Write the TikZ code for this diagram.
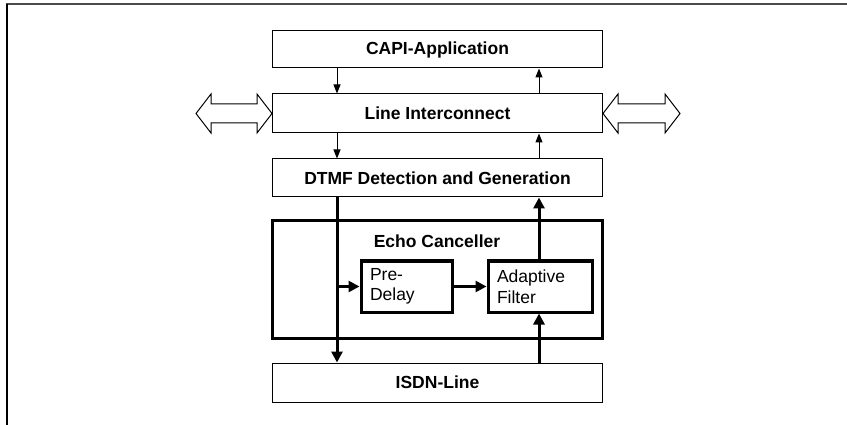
\documentclass[tikz,border=0pt]{standalone}
\usepackage{fontspec}
\setmainfont{Liberation Sans}
\usetikzlibrary{arrows.meta}
\begin{document}
\begin{tikzpicture}[x=1pt,y=-1pt,
  every node/.style={font=\fontsize{17.5}{20.5}\selectfont},
  thinbox/.style={draw,line width=1pt,minimum width=330pt,inner sep=0pt,font=\fontsize{17.5}{20.5}\selectfont\bfseries},
  thickbox/.style={draw,line width=3pt,inner sep=0pt},
  thinarrow/.style={line width=1pt,-{Triangle[length=9pt,width=7pt]}},
  thickarrow/.style={line width=3pt,-{Triangle[length=11pt,width=11pt]}},
  dblarrow/.style={draw,line width=1pt,fill=white,line join=miter}]
\useasboundingbox (0,0) rectangle (847,425);
\fill[white] (0,0) rectangle (847,425);
\draw[line width=2pt,black!70] (6,4.5) -- (847,4.5);
\draw[line width=2pt,black] (6.5,4) -- (6.5,425);

\node[thinbox,minimum height=37pt] (capi) at (437.5,49.5) {CAPI-Application};
\node[thinbox,minimum height=39pt] (li) at (437.5,113.5) {Line Interconnect};
\node[thinbox,minimum height=38pt] (dtmf) at (437.5,178) {DTMF Detection and Generation};
\node[thickbox,minimum width=330pt,minimum height=117pt] (ec) at (437.5,279.5) {};
\node (ectext) at (437,241) {\bfseries Echo Canceller};
\node[thickbox,minimum width=91pt,minimum height=51pt,align=left,text width=73pt,inner sep=0pt] (pd) at (406.5,286.5) {Pre-\\Delay};
\node[thickbox,minimum width=104pt,minimum height=51pt,align=left,text width=86pt,inner sep=0pt] (af) at (540,286.5) {Adaptive\\Filter};
\node[thinbox,minimum height=39pt] (isdn) at (437.5,382.5) {ISDN-Line};

\coordinate (xl) at (337,0);
\coordinate (xr) at (539,0);

\draw[thinarrow] (capi.south -| xl) -- (li.north -| xl);
\draw[thinarrow] (li.north -| xr) -- (capi.south -| xr);
\draw[thinarrow] (li.south -| xl) -- (dtmf.north -| xl);
\draw[thinarrow] (dtmf.north -| xr) -- (li.south -| xr);

\draw[thickarrow] (dtmf.south -| xl) -- (isdn.north -| xl);
\draw[thickarrow] (pd.west -| xl) -- (pd.west);
\draw[thickarrow] (pd.east) -- (af.west);
\draw[thickarrow] (af.north -| xr) -- (dtmf.south -| xr);
\draw[thickarrow] (isdn.north -| xr) -- (af.south -| xr);

\draw[dblarrow] (li.west) -- ++(-15,-19.5) -- ++(0,10) -- ++(-46,0) -- ++(0,-10)
  -- ++(-15,19.5) -- ++(15,19.5) -- ++(0,-10) -- ++(46,0) -- ++(0,10) -- cycle;
\draw[dblarrow] (li.east) -- ++(15,-19.5) -- ++(0,10) -- ++(47,0) -- ++(0,-10)
  -- ++(15,19.5) -- ++(-15,19.5) -- ++(0,-10) -- ++(-47,0) -- ++(0,10) -- cycle;
\end{tikzpicture}
\end{document}
